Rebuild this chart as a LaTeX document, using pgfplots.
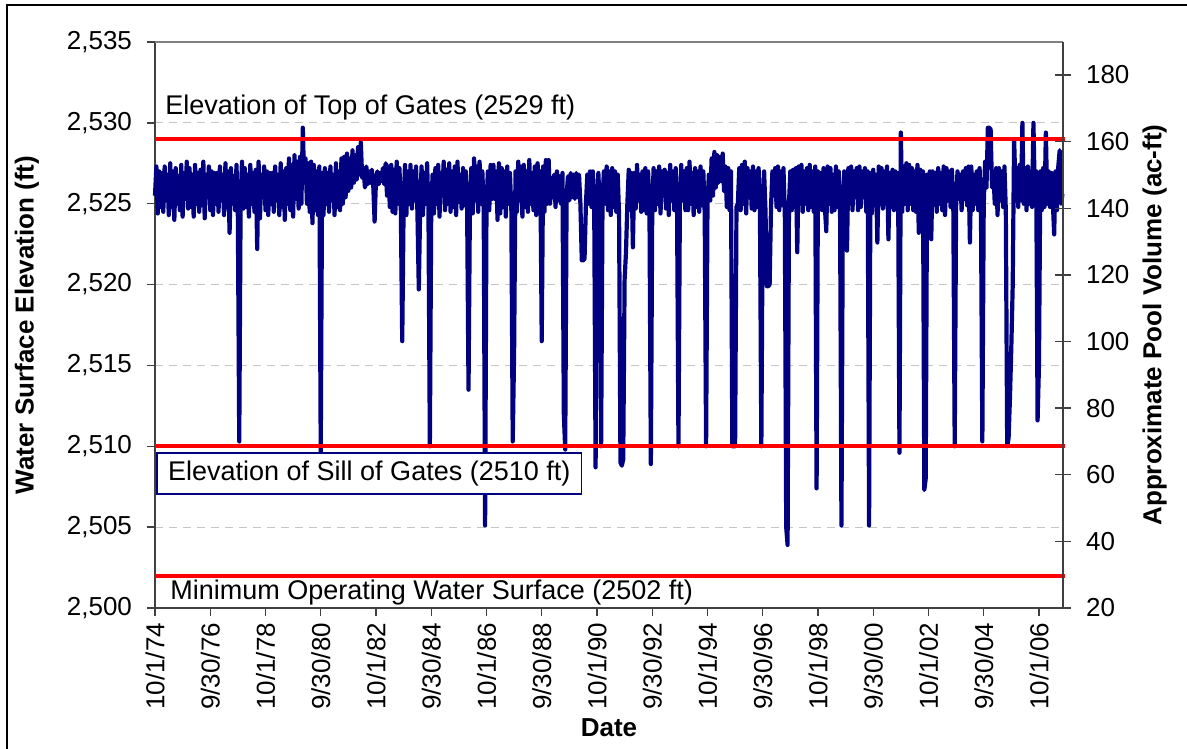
\documentclass[border=0pt]{standalone}
\usepackage{fontspec}
\setmainfont{Liberation Sans}
\usepackage{pgfplots}
\pgfplotsset{compat=1.18}
\definecolor{navyline}{RGB}{0,0,128}
\definecolor{redline}{RGB}{255,0,0}
\newcommand{\cf}{\fontsize{13}{15.6}\selectfont}
\newcommand{\af}{\fontsize{13.5}{16}\selectfont}

\begin{document}
\begin{tikzpicture}
\begin{axis}[
  name=main,
  scale only axis, width=454pt, height=283pt,
  xmin=1974.75, xmax=2007.62, ymin=2500, ymax=2535,
  clip=false,
  axis x line*=bottom, axis y line*=left,
  axis line style={black!75, line width=0.7pt},
  tick style={black!75, line width=0.7pt},
  tick align=outside, major tick length=4pt,
  xtick={1974.75,1976.75,1978.75,1980.75,1982.75,1984.75,1986.75,1988.75,1990.75,1992.75,1994.75,1996.75,1998.75,2000.75,2002.75,2004.75,2006.75},
  xticklabels={10/1/74,9/30/76,10/1/78,9/30/80,10/1/82,9/30/84,10/1/86,9/30/88,10/1/90,9/30/92,10/1/94,9/30/96,10/1/98,9/30/00,10/1/02,9/30/04,10/1/06},
  ytick={2500,2505,2510,2515,2520,2525,2530,2535},
  ymajorgrids, grid style={gray!45, dash pattern=on 4pt off 3pt, line width=0.5pt},
  /pgf/number format/assume math mode=true,
  /pgf/number format/1000 sep={,},
  tick label style={font=\cf},
  y tick label style={xshift=-4pt},
  x tick label style={rotate=90, anchor=east},
  xlabel={Date}, ylabel={Water Surface Elevation (ft)},
  label style={font=\cf\bfseries},
  xlabel style={at={(axis description cs:0.5,-0.212)}, anchor=center},
  ylabel style={at={(axis description cs:-0.141,0.5)}, anchor=center},
]
% water surface elevation
\addplot[navyline, line width=2.1pt, line join=round, no markers] coordinates {
(1974.75,2525.5) (1974.80,2527.3) (1974.85,2524.4) (1974.90,2527.0) (1974.95,2524.8)
(1975.00,2526.9) (1975.05,2524.5) (1975.10,2527.3) (1975.15,2525.2) (1975.20,2526.8) (1975.25,2524.3) (1975.30,2527.5) (1975.35,2524.8) (1975.40,2527.0) (1975.45,2524.0)
(1975.50,2527.2) (1975.55,2525.0) (1975.60,2526.7) (1975.65,2524.6) (1975.70,2527.4) (1975.75,2524.2) (1975.80,2526.9) (1975.85,2525.3) (1975.90,2527.6) (1975.95,2524.7)
(1976.00,2527.2) (1976.05,2524.8) (1976.10,2526.8) (1976.15,2524.2) (1976.20,2527.4) (1976.25,2525.0) (1976.30,2526.9) (1976.35,2524.5) (1976.40,2527.1) (1976.45,2524.9)
(1976.50,2527.6) (1976.55,2524.1) (1976.60,2526.8) (1976.65,2525.4) (1976.70,2527.3) (1976.75,2524.6) (1976.80,2527.0) (1976.85,2524.3) (1976.90,2526.9) (1976.95,2525.0)
(1977.00,2526.9) (1977.05,2524.5) (1977.10,2527.3) (1977.15,2525.2) (1977.20,2526.8) (1977.25,2524.3) (1977.30,2527.5) (1977.35,2524.8) (1977.40,2527.0) (1977.45,2523.2)
(1977.50,2527.2) (1977.55,2525.0) (1977.60,2526.7) (1977.65,2524.6) (1977.70,2527.4) (1977.75,2524.2) (1977.80,2510.3) (1977.85,2525.3) (1977.90,2527.6) (1977.95,2524.7)
(1978.00,2527.2) (1978.05,2524.8) (1978.10,2526.8) (1978.15,2524.2) (1978.20,2527.4) (1978.25,2525.0) (1978.30,2526.9) (1978.35,2524.5) (1978.40,2527.1) (1978.45,2522.2)
(1978.50,2527.6) (1978.55,2524.1) (1978.60,2526.8) (1978.65,2525.4) (1978.70,2527.3) (1978.75,2524.6) (1978.80,2527.0) (1978.85,2524.3) (1978.90,2526.9) (1978.95,2525.0)
(1979.00,2526.9) (1979.05,2524.5) (1979.10,2527.3) (1979.15,2525.2) (1979.20,2526.8) (1979.25,2524.3) (1979.30,2527.5) (1979.35,2524.8) (1979.40,2527.0) (1979.45,2524.0)
(1979.50,2527.2) (1979.55,2525.0) (1979.60,2527.8) (1979.65,2524.6) (1979.70,2527.4) (1979.75,2524.2) (1979.80,2528.0) (1979.85,2525.3) (1979.90,2527.6) (1979.95,2524.7)
(1980.00,2527.9) (1980.05,2525.0) (1980.10,2529.7) (1980.15,2526.5) (1980.20,2527.8) (1980.25,2525.0) (1980.30,2527.5) (1980.35,2524.5) (1980.40,2527.6) (1980.45,2523.8)
(1980.50,2527.4) (1980.55,2524.6) (1980.60,2527.0) (1980.65,2524.3) (1980.70,2527.3) (1980.75,2509.6) (1980.80,2526.9) (1980.85,2524.3) (1980.90,2527.2) (1980.95,2525.0)
(1981.00,2526.9) (1981.05,2524.5) (1981.10,2527.3) (1981.15,2525.2) (1981.20,2526.8) (1981.25,2524.3) (1981.30,2527.5) (1981.35,2524.8) (1981.40,2527.0) (1981.45,2524.6)
(1981.50,2527.8) (1981.55,2525.0) (1981.60,2527.9) (1981.65,2525.4) (1981.70,2528.1) (1981.75,2525.8) (1981.80,2527.8) (1981.85,2526.0) (1981.90,2528.3) (1981.95,2526.3)
(1982.00,2528.0) (1982.05,2526.5) (1982.10,2528.5) (1982.15,2526.8) (1982.20,2528.8) (1982.25,2526.6) (1982.30,2527.2) (1982.35,2526.0) (1982.40,2527.3) (1982.45,2526.2)
(1982.50,2527.0) (1982.55,2526.3) (1982.60,2527.1) (1982.65,2526.2) (1982.70,2523.9) (1982.75,2526.5) (1982.80,2527.0) (1982.85,2526.2) (1982.90,2526.9) (1982.95,2526.4)
(1983.00,2527.2) (1983.05,2526.2) (1983.10,2527.5) (1983.15,2525.5) (1983.20,2527.3) (1983.25,2524.8) (1983.30,2527.4) (1983.35,2524.5) (1983.40,2527.1) (1983.45,2524.4)
(1983.50,2527.6) (1983.55,2525.0) (1983.60,2527.2) (1983.65,2524.6) (1983.70,2516.5) (1983.75,2524.8) (1983.80,2527.4) (1983.85,2524.3) (1983.90,2527.0) (1983.95,2525.0)
(1984.00,2527.4) (1984.05,2524.7) (1984.10,2527.0) (1984.15,2525.2) (1984.20,2527.3) (1984.25,2524.5) (1984.30,2519.7) (1984.35,2524.8) (1984.40,2527.3) (1984.45,2524.3)
(1984.50,2526.9) (1984.55,2525.0) (1984.60,2527.5) (1984.65,2524.6) (1984.70,2510.0) (1984.75,2524.8) (1984.80,2526.8) (1984.85,2524.4) (1984.90,2527.2) (1984.95,2525.0)
(1985.00,2527.4) (1985.05,2524.2) (1985.10,2526.9) (1985.15,2525.5) (1985.20,2527.6) (1985.25,2524.6) (1985.30,2527.1) (1985.35,2525.0) (1985.40,2527.5) (1985.45,2524.5)
(1985.50,2527.0) (1985.55,2524.8) (1985.60,2527.3) (1985.65,2524.3) (1985.70,2527.6) (1985.75,2525.1) (1985.80,2526.8) (1985.85,2524.7) (1985.90,2527.2) (1985.95,2524.9)
(1986.00,2527.0) (1986.05,2524.6) (1986.10,2513.5) (1986.15,2524.9) (1986.20,2527.2) (1986.25,2524.4) (1986.30,2527.8) (1986.35,2525.2) (1986.40,2527.3) (1986.45,2524.5)
(1986.50,2527.6) (1986.55,2525.0) (1986.60,2527.0) (1986.65,2524.6) (1986.70,2505.1) (1986.75,2524.8) (1986.80,2527.0) (1986.85,2524.6) (1986.90,2527.4) (1986.95,2525.3)
(1987.00,2527.4) (1987.05,2525.3) (1987.10,2527.0) (1987.15,2524.0) (1987.20,2527.5) (1987.25,2524.4) (1987.30,2527.2) (1987.35,2524.8) (1987.40,2527.0) (1987.45,2524.2)
(1987.50,2527.3) (1987.55,2525.0) (1987.60,2526.9) (1987.65,2524.6) (1987.70,2510.3) (1987.75,2515.8) (1987.80,2527.0) (1987.85,2524.5) (1987.90,2527.6) (1987.95,2525.2)
(1988.00,2527.3) (1988.05,2524.2) (1988.10,2527.4) (1988.15,2524.8) (1988.20,2527.0) (1988.25,2524.5) (1988.30,2527.7) (1988.35,2525.0) (1988.40,2526.9) (1988.45,2524.6)
(1988.50,2527.3) (1988.55,2524.3) (1988.60,2527.5) (1988.65,2525.1) (1988.70,2527.0) (1988.75,2516.5) (1988.80,2527.3) (1988.85,2524.5) (1988.90,2527.7) (1988.95,2525.0)
(1989.00,2527.7) (1989.05,2525.0) (1989.10,2526.6) (1989.15,2525.4) (1989.20,2526.8) (1989.25,2524.8) (1989.30,2527.0) (1989.35,2525.2) (1989.40,2526.7) (1989.45,2525.0)
(1989.50,2526.9) (1989.55,2512.0) (1989.60,2509.8) (1989.65,2525.5) (1989.70,2526.7) (1989.75,2525.2) (1989.80,2526.9) (1989.85,2525.4) (1989.90,2526.8) (1989.95,2525.3)
(1990.00,2526.9) (1990.05,2525.4) (1990.10,2526.8) (1990.15,2525.0) (1990.20,2521.5) (1990.25,2521.5) (1990.30,2521.6) (1990.35,2525.0) (1990.40,2526.8) (1990.45,2525.0)
(1990.50,2527.0) (1990.55,2524.8) (1990.60,2527.0) (1990.65,2524.9) (1990.70,2508.7) (1990.75,2525.0) (1990.80,2526.9) (1990.85,2524.8) (1990.90,2510.0) (1990.95,2525.2)
(1991.00,2527.0) (1991.05,2525.0) (1991.10,2527.3) (1991.15,2524.6) (1991.20,2527.0) (1991.25,2524.3) (1991.30,2527.2) (1991.35,2524.8) (1991.40,2527.0) (1991.45,2524.5)
(1991.50,2526.8) (1991.55,2524.3) (1991.60,2509.0) (1991.65,2508.8) (1991.70,2509.2) (1991.75,2520.3) (1991.80,2522.0) (1991.85,2525.0) (1991.90,2527.1) (1991.95,2524.6)
(1992.00,2526.9) (1992.05,2522.3) (1992.10,2526.9) (1992.15,2524.7) (1992.20,2527.4) (1992.25,2525.2) (1992.30,2526.8) (1992.35,2524.5) (1992.40,2527.0) (1992.45,2524.6)
(1992.50,2527.2) (1992.55,2524.4) (1992.60,2527.0) (1992.65,2524.8) (1992.70,2508.9) (1992.75,2524.6) (1992.80,2527.2) (1992.85,2524.6) (1992.90,2527.0) (1992.95,2525.0)
(1993.00,2527.3) (1993.05,2524.4) (1993.10,2527.0) (1993.15,2525.5) (1993.20,2527.1) (1993.25,2524.7) (1993.30,2526.9) (1993.35,2524.3) (1993.40,2527.4) (1993.45,2525.2)
(1993.50,2527.0) (1993.55,2524.6) (1993.60,2527.2) (1993.65,2524.5) (1993.70,2510.0) (1993.75,2524.8) (1993.80,2527.4) (1993.85,2525.2) (1993.90,2527.0) (1993.95,2524.6)
(1994.00,2527.2) (1994.05,2524.6) (1994.10,2527.6) (1994.15,2525.0) (1994.20,2526.9) (1994.25,2524.3) (1994.30,2527.2) (1994.35,2524.8) (1994.40,2527.0) (1994.45,2524.5)
(1994.50,2527.3) (1994.55,2524.9) (1994.60,2527.0) (1994.65,2524.4) (1994.70,2510.0) (1994.75,2524.9) (1994.80,2526.8) (1994.85,2525.2) (1994.90,2527.8) (1994.95,2525.5)
(1995.00,2528.2) (1995.05,2526.0) (1995.10,2528.0) (1995.15,2526.3) (1995.20,2527.9) (1995.25,2526.4) (1995.30,2528.1) (1995.35,2525.8) (1995.40,2527.3) (1995.45,2524.8)
(1995.50,2527.2) (1995.55,2524.6) (1995.60,2527.0) (1995.65,2510.0) (1995.70,2510.0) (1995.75,2510.0) (1995.80,2524.8) (1995.85,2525.0) (1995.90,2527.2) (1995.95,2524.6)
(1996.00,2527.4) (1996.05,2525.0) (1996.10,2527.6) (1996.15,2524.4) (1996.20,2527.2) (1996.25,2525.4) (1996.30,2527.0) (1996.35,2524.7) (1996.40,2527.3) (1996.45,2524.6)
(1996.50,2527.0) (1996.55,2524.8) (1996.60,2527.2) (1996.65,2524.5) (1996.70,2510.0) (1996.75,2524.9) (1996.80,2527.0) (1996.85,2524.6) (1996.90,2519.9) (1996.95,2519.9)
(1997.00,2520.0) (1997.05,2524.8) (1997.10,2527.0) (1997.15,2525.5) (1997.20,2527.2) (1997.25,2524.8) (1997.30,2527.3) (1997.35,2524.6) (1997.40,2527.0) (1997.45,2524.9)
(1997.50,2527.2) (1997.55,2524.5) (1997.60,2505.0) (1997.65,2503.9) (1997.70,2525.0) (1997.75,2527.0) (1997.80,2524.6) (1997.85,2527.1) (1997.90,2524.8) (1997.95,2527.2)
(1998.00,2522.0) (1998.05,2527.3) (1998.10,2525.2) (1998.15,2527.4) (1998.20,2524.5) (1998.25,2527.0) (1998.30,2525.0) (1998.35,2527.2) (1998.40,2524.6) (1998.45,2527.4)
(1998.50,2524.8) (1998.55,2527.0) (1998.60,2524.5) (1998.65,2527.3) (1998.70,2507.4) (1998.75,2527.0) (1998.80,2524.8) (1998.85,2526.9) (1998.90,2524.6) (1998.95,2527.2)
(1999.00,2524.8) (1999.05,2523.3) (1999.10,2527.3) (1999.15,2525.0) (1999.20,2527.2) (1999.25,2524.5) (1999.30,2526.8) (1999.35,2524.6) (1999.40,2527.3) (1999.45,2524.8)
(1999.50,2527.0) (1999.55,2524.5) (1999.60,2505.1) (1999.65,2524.8) (1999.70,2527.0) (1999.75,2524.6) (1999.80,2522.1) (1999.85,2527.2) (1999.90,2525.0) (1999.95,2527.3)
(2000.00,2524.6) (2000.05,2527.0) (2000.10,2525.4) (2000.15,2527.2) (2000.20,2524.6) (2000.25,2527.3) (2000.30,2524.8) (2000.35,2527.0) (2000.40,2525.4) (2000.45,2527.2)
(2000.50,2524.5) (2000.55,2527.0) (2000.60,2505.1) (2000.65,2526.9) (2000.70,2524.4) (2000.75,2527.1) (2000.80,2524.9) (2000.85,2526.8) (2000.90,2522.6) (2000.95,2527.3)
(2001.00,2525.0) (2001.05,2527.2) (2001.10,2524.7) (2001.15,2527.0) (2001.20,2525.0) (2001.25,2527.3) (2001.30,2522.8) (2001.35,2526.9) (2001.40,2524.8) (2001.45,2527.1)
(2001.50,2524.6) (2001.55,2527.0) (2001.60,2524.7) (2001.65,2526.9) (2001.70,2509.6) (2001.75,2529.4) (2001.80,2524.5) (2001.85,2527.3) (2001.90,2525.0) (2001.95,2527.5)
(2002.00,2524.6) (2002.05,2527.4) (2002.10,2525.0) (2002.15,2527.2) (2002.20,2524.6) (2002.25,2527.0) (2002.30,2524.5) (2002.35,2527.4) (2002.40,2523.2) (2002.45,2527.1)
(2002.50,2524.9) (2002.55,2527.0) (2002.60,2507.3) (2002.65,2508.0) (2002.70,2526.8) (2002.75,2524.6) (2002.80,2527.0) (2002.85,2522.8) (2002.90,2527.0) (2002.95,2525.2)
(2003.00,2526.9) (2003.05,2524.5) (2003.10,2527.2) (2003.15,2525.0) (2003.20,2526.9) (2003.25,2524.6) (2003.30,2527.3) (2003.35,2524.3) (2003.40,2527.2) (2003.45,2525.2)
(2003.50,2527.0) (2003.55,2524.8) (2003.60,2527.1) (2003.65,2524.7) (2003.70,2510.0) (2003.75,2524.8) (2003.80,2527.0) (2003.85,2525.3) (2003.90,2526.8) (2003.95,2524.6)
(2004.00,2527.0) (2004.05,2525.3) (2004.10,2527.2) (2004.15,2524.9) (2004.20,2527.3) (2004.25,2522.6) (2004.30,2527.3) (2004.35,2524.6) (2004.40,2526.8) (2004.45,2525.0)
(2004.50,2527.0) (2004.55,2524.6) (2004.60,2527.2) (2004.65,2524.8) (2004.70,2510.3) (2004.75,2524.9) (2004.80,2527.6) (2004.85,2526.0) (2004.90,2529.7) (2004.95,2529.7)
(2005.00,2529.6) (2005.05,2526.0) (2005.10,2527.0) (2005.15,2525.0) (2005.20,2527.2) (2005.25,2524.3) (2005.30,2527.2) (2005.35,2525.2) (2005.40,2527.0) (2005.45,2524.8)
(2005.50,2527.3) (2005.55,2524.6) (2005.60,2510.0) (2005.65,2510.5) (2005.70,2513.0) (2005.75,2516.2) (2005.80,2520.0) (2005.85,2529.0) (2005.90,2526.0) (2005.95,2527.2)
(2006.00,2524.8) (2006.05,2527.4) (2006.10,2525.2) (2006.15,2530.0) (2006.20,2525.0) (2006.25,2527.2) (2006.30,2524.6) (2006.35,2527.3) (2006.40,2525.0) (2006.45,2527.0)
(2006.50,2524.8) (2006.55,2530.0) (2006.60,2525.5) (2006.65,2527.0) (2006.70,2511.6) (2006.75,2515.0) (2006.80,2527.0) (2006.85,2524.6) (2006.90,2527.2) (2006.95,2524.8)
(2007.00,2529.4) (2007.05,2525.0) (2007.10,2527.0) (2007.15,2524.8) (2007.20,2526.9) (2007.25,2525.2) (2007.30,2523.1) (2007.35,2527.0) (2007.40,2524.6) (2007.45,2527.3)
(2007.50,2528.3) (2007.55,2525.0) (2007.60,2525.6)
};
% reference elevations
\addplot[redline, line width=2.1pt, no markers] coordinates {(1974.75,2529) (2007.7,2529)};
\addplot[redline, line width=2.1pt, no markers] coordinates {(1974.75,2510) (2007.7,2510)};
\addplot[redline, line width=2.1pt, no markers] coordinates {(1974.75,2502) (2007.7,2502)};
\draw[gray, line width=0.7pt] (rel axis cs:0,1) -- (rel axis cs:1,1);
\node[anchor=west, inner sep=0pt, font=\af] at (axis cs:1975.11,2530.95) {Elevation of Top of Gates (2529 ft)};
\node[anchor=west, draw=navyline, line width=0.8pt, fill=white, inner xsep=5.5pt, minimum height=20.5pt, font=\af] at (axis cs:1974.8,2508.3) {Elevation of Sill of Gates (2510 ft)};
\node[anchor=west, inner sep=0pt, font=\af] at (axis cs:1975.29,2500.95) {Minimum Operating Water Surface (2502 ft)};
\end{axis}

\begin{axis}[
  scale only axis, width=454pt, height=283pt,
  xmin=1974.75, xmax=2007.62, ymin=20, ymax=189.9,
  axis y line*=right, axis x line=none,
  axis line style={black!75, line width=0.7pt},
  tick style={black!75, line width=0.7pt},
  tick align=center, major tick length=8pt,
  ytick={20,40,60,80,100,120,140,160,180},
  /pgf/number format/assume math mode=true,
  tick label style={font=\cf},
  y tick label style={xshift=4pt},
  ylabel={Approximate Pool Volume (ac-ft)},
  label style={font=\cf\bfseries},
  ylabel style={at={(axis description cs:1.101,0.5)}, anchor=center},
]
\end{axis}

\draw[black, line width=0.8pt] ([shift={(-74pt,-70.5pt)}]main.south west) -- ([shift={(-74pt,18.5pt)}]main.north west) -- ([shift={(62pt,18.5pt)}]main.north east);
\pgfresetboundingbox
\path ([shift={(-77.5pt,-70.5pt)}]main.south west) rectangle ([shift={(62pt,21pt)}]main.north east);
\end{tikzpicture}
\end{document}
